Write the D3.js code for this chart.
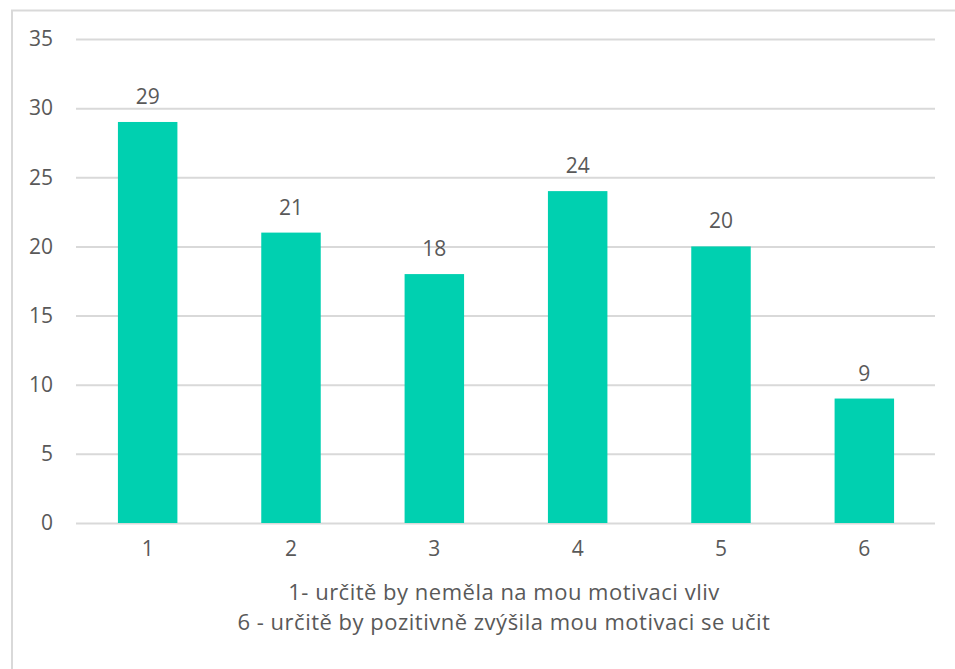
<!DOCTYPE html>
<html><head><meta charset="utf-8">
<script src="https://cdn.jsdelivr.net/npm/d3@7"></script>
<style>body{margin:0;background:#fff}svg{display:block}text{font-family:"Open Sans",sans-serif;fill:#595959}</style>
</head><body>
<script>
const categories = ["1","2","3","4","5","6"];
const values = [29,21,18,24,20,9];
const yTicks = [0,5,10,15,20,25,30,35];
const titleLines = ["1- určitě by neměla na mou motivaci vliv","6 - určitě by pozitivně zvýšila mou motivaci se učit"];

(function () {
const W = 955, H = 669;
const svg = d3.select("body").append("svg").attr("width", W).attr("height", H);
svg.append("rect").attr("x", 12).attr("y", 10.5).attr("width", 960).attr("height", 700)
  .attr("fill", "none").attr("stroke", "#d9d9d9").attr("stroke-width", 2);

const pLeft = 76, pRight = 936, pTop = 39, pBottom = 523;
const x = d3.scaleBand().domain(categories).range([pLeft, pRight]).paddingInner(0.585).paddingOuter(0.2925);
const y = d3.scaleLinear().domain([0, 35]).range([pBottom, pTop]);
const fs = 21;

const yAxis = svg.append("g").attr("transform", `translate(${pLeft},0)`)
  .call(d3.axisLeft(y).tickValues(yTicks).tickSize(-(pRight - 1 - pLeft)).tickPadding(23));
yAxis.select(".domain").remove();
yAxis.selectAll("line").attr("stroke", "#d9d9d9").attr("stroke-width", 2);
yAxis.selectAll("text").style("font-size", fs + "px").attr("fill", "#595959").style("font-family", '"Open Sans",sans-serif');

svg.selectAll("rect.bar").data(values).enter().append("rect").attr("class", "bar")
  .attr("x", (d, i) => x(categories[i])).attr("width", x.bandwidth())
  .attr("y", d => y(d)).attr("height", d => pBottom - y(d)).attr("fill", "#00d0b0");

svg.selectAll("text.lbl").data(values).enter().append("text").attr("class", "lbl")
  .attr("x", (d, i) => x(categories[i]) + x.bandwidth() / 2).attr("y", d => y(d) - 18)
  .attr("text-anchor", "middle").style("font-size", fs + "px").text(d => d);

const xAxis = svg.append("g").attr("transform", `translate(0,${pBottom})`)
  .call(d3.axisBottom(x).tickSize(0).tickPadding(18));
xAxis.select(".domain").remove();
xAxis.selectAll("text").style("font-size", fs + "px").attr("fill", "#595959").style("font-family", '"Open Sans",sans-serif');

const cx = (pLeft + pRight) / 2 - 2;
svg.selectAll("text.title").data(titleLines).enter().append("text").attr("class", "title")
  .attr("x", cx).attr("y", (d, i) => 600 + i * 30).attr("text-anchor", "middle")
  .style("font-size", "22px").style("letter-spacing", "0.5px").text(d => d);
})();
</script>
</body></html>
